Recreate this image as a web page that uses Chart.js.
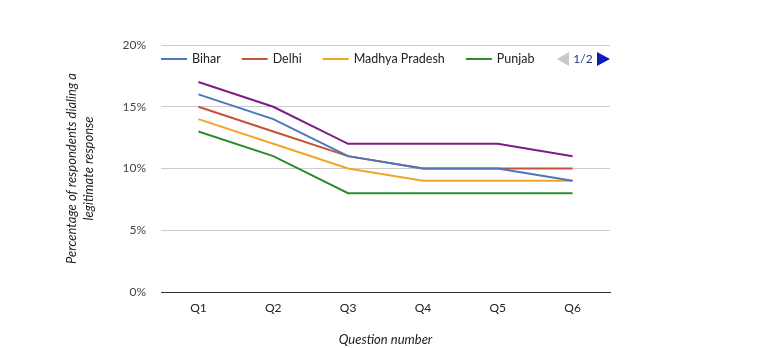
<!DOCTYPE html>
<html>
<head>
<meta charset="utf-8">
<script src="https://cdn.jsdelivr.net/npm/chart.js@4.4.1/dist/chart.umd.min.js"></script>
<style>
  html, body { margin: 0; padding: 0; background: #fff; }
  #wrap { width: 758px; height: 348px; }
</style>
</head>
<body>
<div id="wrap"><canvas id="chart" width="758" height="348"></canvas></div>
<script>
const questions = ["Q1", "Q2", "Q3", "Q4", "Q5", "Q6"];
const bihar = [16, 14, 11, 10, 10, 9];
const delhi = [15, 13, 11, 10, 10, 10];
const madhyaPradesh = [14, 12, 10, 9, 9, 9];
const punjab = [13, 11, 8, 8, 8, 8];
const uttarPradesh = [17, 15, 12, 12, 12, 11];
const yTicks = [0, 5, 10, 15, 20];

const FONT = "Lato, 'Open Sans', sans-serif";

// legend drawn by hand so it can look like the paged one in the picture
const pagedLegend = {
  id: "pagedLegend",
  afterDraw(chart) {
    const { ctx, chartArea } = chart;
    const y = 59;
    let x = chartArea.left;
    ctx.save();
    ctx.font = "12.5px " + FONT;
    ctx.textBaseline = "middle";
    chart.data.datasets.slice(0, 4).forEach(ds => {
      ctx.strokeStyle = ds.borderColor;
      ctx.lineWidth = 2;
      ctx.beginPath();
      ctx.moveTo(x, y);
      ctx.lineTo(x + 26, y);
      ctx.stroke();
      ctx.fillStyle = "#222";
      ctx.fillText(ds.label, x + 31, y);
      x += 31 + ctx.measureText(ds.label).width + 21;
    });

    // pager: ◀ 1/2 ▶
    const r = chartArea.right;
    ctx.fillStyle = "#c8c8c8";
    ctx.beginPath();
    ctx.moveTo(r - 53, y);
    ctx.lineTo(r - 41, y - 7);
    ctx.lineTo(r - 41, y + 7);
    ctx.closePath();
    ctx.fill();
    ctx.fillStyle = "#2a3580";
    ctx.font = "12px " + FONT;
    ctx.textAlign = "center";
    ctx.fillText("1/2", r - 27, y);
    ctx.fillStyle = "#0b1fb8";
    ctx.beginPath();
    ctx.moveTo(r - 13, y - 7);
    ctx.lineTo(r, y);
    ctx.lineTo(r - 13, y + 7);
    ctx.closePath();
    ctx.fill();
    ctx.restore();
  }
};

function line(label, data, color) {
  return {
    label,
    data,
    borderColor: color,
    backgroundColor: color,
    borderWidth: 2,
    pointRadius: 0,
    tension: 0,
    fill: false
  };
}

new Chart(document.getElementById("chart"), {
  type: "line",
  data: {
    labels: questions,
    datasets: [
      line("Bihar", bihar, "#4a77bd"),
      line("Delhi", delhi, "#c5523a"),
      line("Madhya Pradesh", madhyaPradesh, "#f2a628"),
      line("Punjab", punjab, "#2e8b2e"),
      line("Uttar Pradesh", uttarPradesh, "#7b1f83")
    ]
  },
  options: {
    responsive: false,
    animation: false,
    layout: { padding: { left: 0, right: 148, top: 45, bottom: 0 } },
    plugins: {
      legend: { display: false },
      tooltip: { enabled: false }
    },
    scales: {
      x: {
        offset: true,
        afterFit: s => { s.height = 56; },
        grid: { display: false, drawTicks: false },
        border: { display: true, color: "#333", width: 1 },
        ticks: { padding: 9, color: "#222", font: { family: FONT, size: 12 } },
        title: {
          display: true,
          text: "Question number",
          color: "#222",
          padding: { top: 0, bottom: 0 },
          font: { family: FONT, size: 13, style: "italic" }
        }
      },
      y: {
        min: 0,
        max: 20,
        afterFit: s => { s.width = 161; },
        afterBuildTicks: s => { s.ticks = yTicks.map(v => ({ value: v })); },
        grid: {
          drawTicks: false,
          color: c => (c.tick && c.tick.value === 0 ? "#333" : "#cccccc")
        },
        border: { display: false },
        ticks: {
          padding: 15,
          color: "#444",
          font: { family: FONT, size: 12 },
          callback: v => v + "%"
        },
        title: {
          display: true,
          text: ["Percentage of respondents dialing a", "legitimate response"],
          color: "#222",
          padding: { top: 63, bottom: 0 },
          font: { family: FONT, size: 13, style: "italic", lineHeight: 1.3 }
        }
      }
    }
  },
  plugins: [pagedLegend]
});
</script>
</body>
</html>
